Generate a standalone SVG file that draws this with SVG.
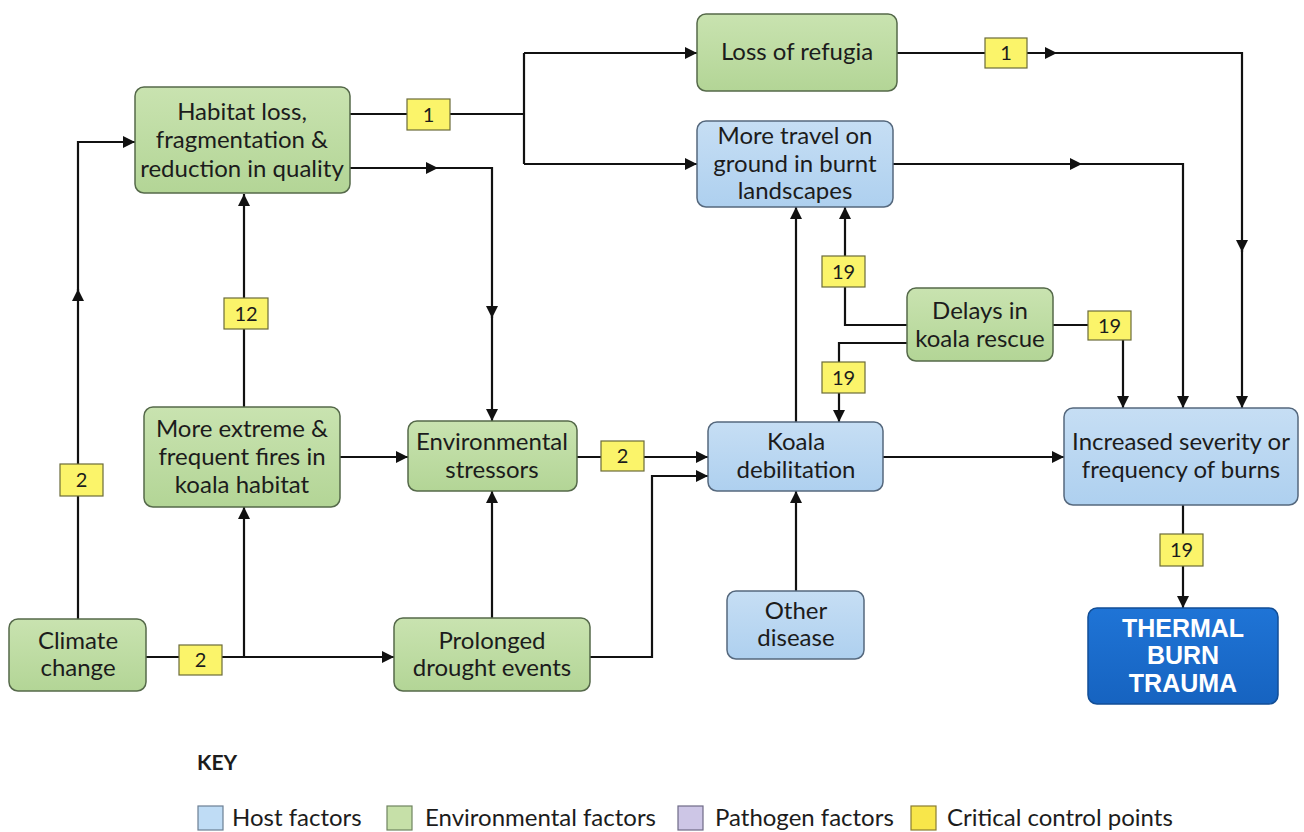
<svg xmlns="http://www.w3.org/2000/svg" width="1304" height="832" viewBox="0 0 1304 832">
<style>
.env{fill:url(#gG);stroke:#55694a;stroke-width:1.5}
.host{fill:url(#gB);stroke:#55687d;stroke-width:1.5}
.ccp{fill:#fbf46a;stroke:#6b6b3a;stroke-width:1.2}
.t{font-family:Lato,"Open Sans",sans-serif;font-size:24px;fill:#1c1c1c;text-anchor:middle}
.c{font-family:Lato,"Open Sans",sans-serif;font-size:20px;fill:#1c1c1c;text-anchor:middle}
.w{font-family:"Liberation Sans",Arial,sans-serif;font-size:25px;font-weight:bold;fill:#ffffff;text-anchor:middle}
.k{font-family:Lato,"Open Sans",sans-serif;font-size:24px;fill:#1c1c1c}
.ln{fill:none;stroke:#111;stroke-width:2.2}
.a{marker-end:url(#arr)}
</style>
<defs>
<linearGradient id="gG" x1="0" y1="0" x2="0" y2="1"><stop offset="0" stop-color="#c9e3b0"/><stop offset="1" stop-color="#b3d596"/></linearGradient>
<linearGradient id="gB" x1="0" y1="0" x2="0" y2="1"><stop offset="0" stop-color="#c6def4"/><stop offset="1" stop-color="#aed0ef"/></linearGradient>
<linearGradient id="gD" x1="0" y1="0" x2="0" y2="1"><stop offset="0" stop-color="#1f74d6"/><stop offset="1" stop-color="#1663c0"/></linearGradient>
<marker id="arr" viewBox="0 0 12 12" refX="12" refY="6" markerWidth="12" markerHeight="12" markerUnits="userSpaceOnUse" orient="auto"><path d="M0,0 L12,6 L0,12 z" fill="#111"/></marker>
</defs>
<rect width="1304" height="832" fill="#ffffff"/>

<g id="connectors">
<path class="ln a" d="M78,619 V289"/>
<path class="ln a" d="M78,291 V142 H135"/>
<path class="ln" d="M146,657 H244"/>
<path class="ln a" d="M244,657 V507"/>
<path class="ln a" d="M244,657 H394"/>
<path class="ln a" d="M244,407 V194"/>
<path class="ln a" d="M340,457 H408"/>
<path class="ln" d="M350,114 H524 M524,53 V164"/>
<path class="ln a" d="M524,53 H697"/>
<path class="ln a" d="M524,164 H697"/>
<path class="ln a" d="M350,168 H438"/>
<path class="ln a" d="M436,168 H492 V318"/>
<path class="ln a" d="M492,316 V421"/>
<path class="ln a" d="M492,618 V491"/>
<path class="ln a" d="M577,457 H708"/>
<path class="ln a" d="M590,657 H652 V476 H708"/>
<path class="ln a" d="M796,422 V207"/>
<path class="ln a" d="M907,325 H845 V207"/>
<path class="ln a" d="M907,343 H839 V422"/>
<path class="ln a" d="M1053,325 H1123 V408"/>
<path class="ln a" d="M897,53 H1057"/>
<path class="ln a" d="M1055,53 H1242 V252"/>
<path class="ln a" d="M1242,250 V408"/>
<path class="ln a" d="M893,164 H1082"/>
<path class="ln a" d="M1080,164 H1183 V408"/>
<path class="ln a" d="M883,457 H1064"/>
<path class="ln a" d="M796,591 V491"/>
<path class="ln a" d="M1183,505 V608"/>
</g>

<g id="ccps">
<g id="ccp-1a"><rect class="ccp" x="407" y="99" width="43" height="31"/><text class="c" x="428.5" y="122">1</text></g>
<g id="ccp-1b"><rect class="ccp" x="985" y="38" width="42" height="30"/><text class="c" x="1006" y="60">1</text></g>
<g id="ccp-12"><rect class="ccp" x="224" y="298" width="44" height="31"/><text class="c" x="246" y="321">12</text></g>
<g id="ccp-2a"><rect class="ccp" x="60" y="464" width="43" height="32"/><text class="c" x="81.5" y="487">2</text></g>
<g id="ccp-2b"><rect class="ccp" x="179" y="645" width="43" height="30"/><text class="c" x="200.5" y="667">2</text></g>
<g id="ccp-2c"><rect class="ccp" x="601" y="441" width="43" height="30"/><text class="c" x="622.5" y="463">2</text></g>
<g id="ccp-19a"><rect class="ccp" x="822" y="256" width="43" height="31"/><text class="c" x="843.5" y="279">19</text></g>
<g id="ccp-19b"><rect class="ccp" x="822" y="362" width="43" height="31"/><text class="c" x="843.5" y="385">19</text></g>
<g id="ccp-19c"><rect class="ccp" x="1088" y="311" width="43" height="29"/><text class="c" x="1109.5" y="333">19</text></g>
<g id="ccp-19d"><rect class="ccp" x="1160" y="534" width="43" height="32"/><text class="c" x="1181.5" y="557">19</text></g>
</g>

<g id="habitat"><rect class="env" x="135" y="87" width="215" height="106" rx="9"/>
<text class="t" x="242" y="120">Habitat loss,</text><text class="t" x="242" y="148">fragmentation &amp;</text><text class="t" x="242" y="177">reduction in quality</text></g>

<g id="refugia"><rect class="env" x="697" y="14" width="200" height="77" rx="9"/>
<text class="t" x="797" y="60">Loss of refugia</text></g>

<g id="travel"><rect class="host" x="697" y="121" width="196" height="86" rx="9"/>
<text class="t" x="795" y="144">More travel on</text><text class="t" x="795" y="172">ground in burnt</text><text class="t" x="795" y="199">landscapes</text></g>

<g id="delays"><rect class="env" x="907" y="288" width="146" height="73" rx="9"/>
<text class="t" x="980" y="319">Delays in</text><text class="t" x="980" y="347">koala rescue</text></g>

<g id="fires"><rect class="env" x="144" y="407" width="196" height="100" rx="9"/>
<text class="t" x="242" y="437">More extreme &amp;</text><text class="t" x="242" y="465">frequent fires in</text><text class="t" x="242" y="493">koala habitat</text></g>

<g id="stressors"><rect class="env" x="408" y="421" width="169" height="70" rx="9"/>
<text class="t" x="492" y="450">Environmental</text><text class="t" x="492" y="478">stressors</text></g>

<g id="debilitation"><rect class="host" x="708" y="422" width="175" height="69" rx="9"/>
<text class="t" x="796" y="450">Koala</text><text class="t" x="796" y="478">debilitation</text></g>

<g id="severity"><rect class="host" x="1064" y="408" width="234" height="97" rx="9"/>
<text class="t" x="1181" y="450">Increased severity or</text><text class="t" x="1181" y="478">frequency of burns</text></g>

<g id="climate"><rect class="env" x="9" y="619" width="137" height="72" rx="9"/>
<text class="t" x="78" y="649">Climate</text><text class="t" x="78" y="676">change</text></g>

<g id="drought"><rect class="env" x="394" y="618" width="196" height="73" rx="9"/>
<text class="t" x="492" y="649">Prolonged</text><text class="t" x="492" y="676">drought events</text></g>

<g id="disease"><rect class="host" x="727" y="591" width="137" height="68" rx="9"/>
<text class="t" x="796" y="619">Other</text><text class="t" x="796" y="646">disease</text></g>

<g id="thermal"><rect x="1088" y="608" width="190" height="96" rx="9" fill="url(#gD)" stroke="#124e96" stroke-width="1.5"/>
<text class="w" x="1183" y="637">THERMAL</text><text class="w" x="1183" y="664">BURN</text><text class="w" x="1183" y="692">TRAUMA</text></g>

<g id="key">
<text x="197" y="770" style="font-family:Lato,'Open Sans',sans-serif;font-size:21px;font-weight:bold;fill:#1c1c1c">KEY</text>
<rect x="198" y="806" width="25" height="24" fill="#bfdcf5" stroke="#6c7f93" stroke-width="1.2"/>
<text class="k" x="232" y="826">Host factors</text>
<rect x="387" y="806" width="25" height="24" fill="#c6e0a8" stroke="#6f8460" stroke-width="1.2"/>
<text class="k" x="425" y="826">Environmental factors</text>
<rect x="678" y="806" width="25" height="24" fill="#cdc6e6" stroke="#6e6a86" stroke-width="1.2"/>
<text class="k" x="715" y="826">Pathogen factors</text>
<rect x="911" y="806" width="25" height="24" fill="#f8e64a" stroke="#8a7d30" stroke-width="1.2"/>
<text class="k" x="947" y="826">Critical control points</text>
</g>
</svg>
